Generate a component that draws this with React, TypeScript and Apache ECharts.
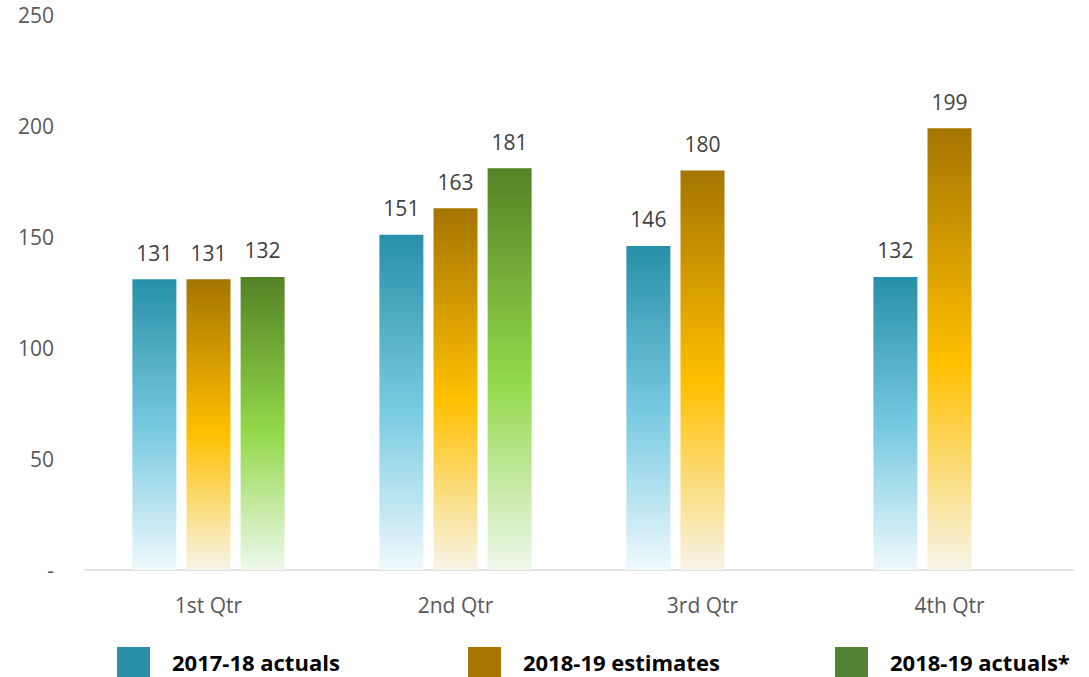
import React, { useEffect, useRef } from "react";
import * as echarts from "echarts";

const categories = ["1st Qtr", "2nd Qtr", "3rd Qtr", "4th Qtr"];
const seriesNames = ["2017-18 actuals", "2018-19 estimates", "2018-19 actuals*"];
const actuals1718 = [131, 151, 146, 132];
const estimates1819 = [131, 163, 180, 199];
const actuals1819 = [132, 181, null, null];
const yTicks = [0, 50, 100, 150, 200, 250];

const solidColors = ["#2990A8", "#A67700", "#548235"];
const gradientStops = [
  ["#2790A8", "#7BCBE2", "#EFF9FC"],
  ["#A47500", "#FFC000", "#F7F4E8"],
  ["#548226", "#92D94A", "#EEF8EC"],
];

function grad(i: number) {
  const s = gradientStops[i];
  return new echarts.graphic.LinearGradient(0, 0, 0, 1, [
    { offset: 0, color: s[0] },
    { offset: 0.53, color: s[1] },
    { offset: 1, color: s[2] },
  ]);
}

export default function App() {
  const ref = useRef<HTMLDivElement>(null);
  useEffect(() => {
    if (!ref.current) return;
    const chart = echarts.init(ref.current, null, { renderer: "svg" });
    const allData = [actuals1718, estimates1819, actuals1819];
    const legendLefts = [117, 468, 835];
    const font = "'Open Sans', sans-serif";
    chart.setOption({
      animation: false,
      grid: { left: 85, right: 16, top: 15, bottom: 107 },
      legend: seriesNames.map((n, i) => ({
        data: [{ name: n, itemStyle: { color: solidColors[i] } }],
        left: legendLefts[i],
        top: 647,
        padding: 0,
        itemWidth: 33,
        itemHeight: 30,
        icon: "rect",
        selectedMode: false,
        textStyle: {
          fontFamily: font,
          fontWeight: "bold",
          fontSize: 22,
          color: "#000000",
          padding: [0, 0, 0, 17],
        },
      })),
      xAxis: {
        type: "category",
        data: categories,
        axisLine: { lineStyle: { color: "#D9D9D9", width: 1.5 } },
        axisTick: { show: false },
        axisLabel: { color: "#595959", fontSize: 21, fontFamily: font, margin: 24 },
      },
      yAxis: {
        type: "value",
        min: 0,
        max: 250,
        interval: 50,
        axisLine: { show: false },
        axisTick: { show: false },
        splitLine: { show: false },
        axisLabel: {
          color: "#595959",
          fontSize: 21,
          fontFamily: font,
          margin: 31,
          formatter: (v: number) => (v === 0 ? "-" : yTicks.includes(v) ? String(v) : ""),
        },
      },
      series: seriesNames.map((n, i) => ({
        name: n,
        type: "bar",
        data: allData[i],
        barWidth: 44,
        barGap: "23%",
        itemStyle: { color: grad(i) },
        label: {
          show: true,
          position: "top",
          distance: 16,
          color: "#404040",
          fontSize: 21,
          fontFamily: font,
        },
      })),
    });
    return () => chart.dispose();
  }, []);
  return <div ref={ref} style={{ width: 1089, height: 677, position: "absolute", left: 0, top: 0 }} />;
}
